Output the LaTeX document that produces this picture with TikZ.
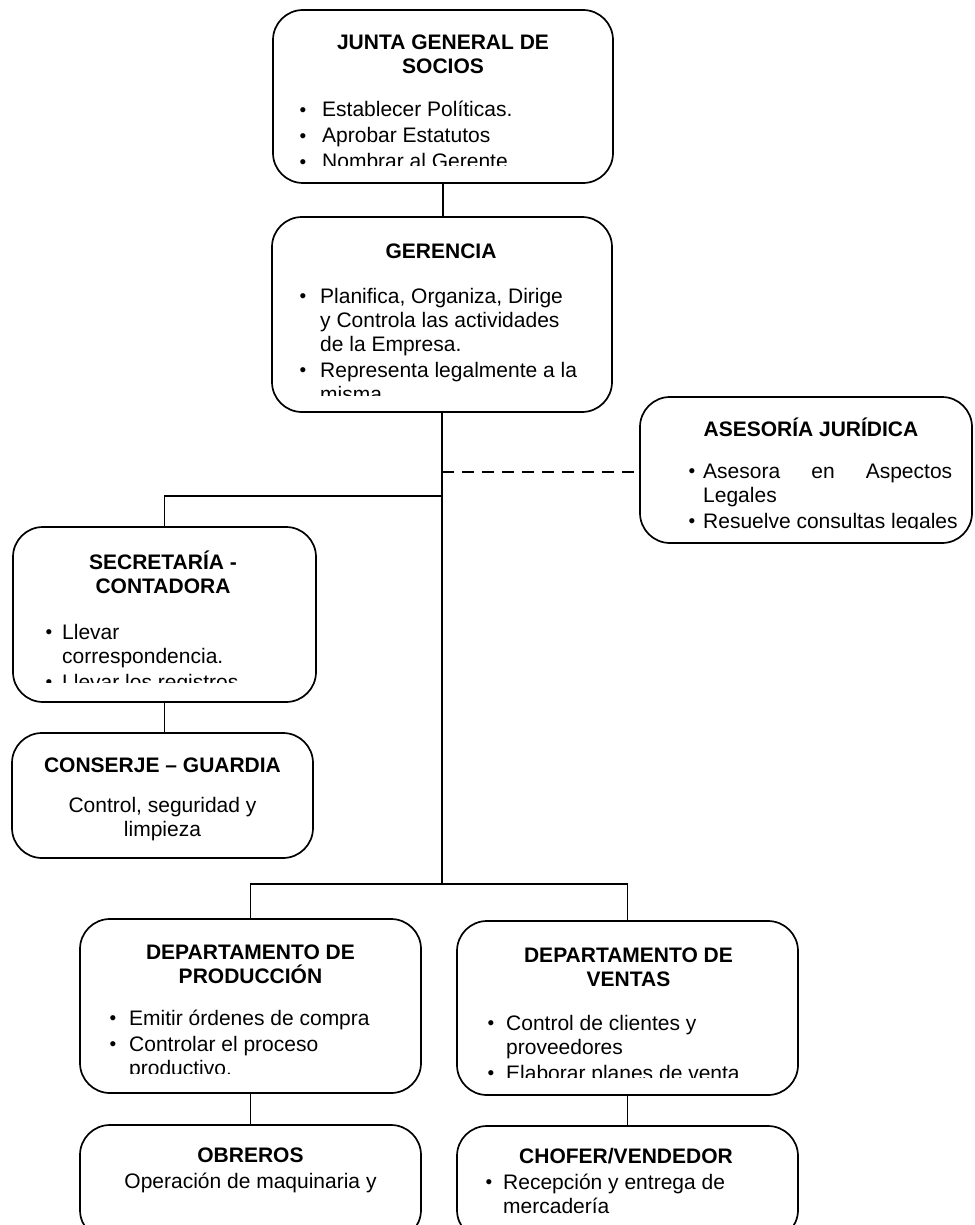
\documentclass[tikz,border=0pt]{standalone}
\usepackage{fontspec}
\setmainfont{Liberation Sans}

% bullet glyph
\newcommand\dotmark{\raisebox{0.5pt}{\fontsize{19}{19}\selectfont\textbullet}}
% bullet item with hanging indent #1
\newcommand\itm[2]{\par\hangindent=#1\hangafter=1\noindent\makebox[#1][l]{\dotmark}#2}
% top-aligned text blocks (first baseline = node base)
\newcommand\lst[1]{\parbox[t]{420pt}{\setlength{\parskip}{2pt}#1}}
\newcommand\cblk[1]{\parbox[t]{420pt}{\centering #1}}

\tikzset{
  box/.style={draw, line width=1.7pt, rounded corners=30pt, inner sep=0pt},
  conn/.style={line width=1.7pt},
  ttl/.style={anchor=base, inner sep=0pt, font=\fontsize{21}{24}\selectfont\bfseries},
  bdy/.style={anchor=base west, inner sep=0pt, font=\fontsize{21}{24}\selectfont},
  ctr/.style={anchor=base, inner sep=0pt, font=\fontsize{21}{24}\selectfont},
}

\begin{document}
\begin{tikzpicture}[x=1pt,y=-1pt]
\useasboundingbox (0,0) rectangle (974,1225);
\fill[white] (0,0) rectangle (974,1225);
\clip (0,0) rectangle (974,1225);

% ---- boxes
\node[box, minimum width=340pt, minimum height=173pt] (junta) at (443,96.5) {};
\node[box, minimum width=340pt, minimum height=195pt] (ger) at (442,314.5) {};
\node[box, minimum width=332pt, minimum height=146pt] (ases) at (806,470) {};
\node[box, minimum width=303pt, minimum height=175pt] (sec) at (164.5,614.5) {};
\node[box, minimum width=301pt, minimum height=125pt] (con) at (162.5,795.5) {};
\node[box, minimum width=341pt, minimum height=174pt] (prod) at (250.5,1006) {};
\node[box, minimum width=341pt, minimum height=174pt] (ven) at (627.5,1008) {};
\node[box, minimum width=341pt, minimum height=115pt] (obr) at (250.5,1182.5) {};
\node[box, minimum width=341pt, minimum height=114pt] (cho) at (627.5,1183) {};

% ---- connectors
\coordinate (lvlase) at (0,472);
\coordinate (lvlsec) at (0,496);
\coordinate (lvldep) at (0,884);
\draw[conn] (junta.south) -- (junta.south |- ger.north);
\draw[conn] (ger.south) -- (ger.south |- lvldep) coordinate (jdep);
\coordinate (jsec) at (ger.south |- lvlsec);
\coordinate (jase) at (ger.south |- lvlase);
\draw[conn] (jsec) -| (sec.north);
\draw[conn, line width=1.5pt, dash pattern=on 12pt off 8pt] (jase) -- (ases.west |- jase);
\draw[conn] (sec.south) -- (sec.south |- con.north);
\draw[conn] (jdep) -| (prod.north);
\draw[conn] (jdep) -| (ven.north);
\draw[conn] (prod.south) -- (prod.south |- obr.north);
\draw[conn] (ven.south) -- (ven.south |- cho.north);

% ---- Junta general de socios
\node[ttl] (juntaT) at (443,50) {\cblk{JUNTA GENERAL DE\\SOCIOS}};
\begin{scope}
  \clip (273,10) rectangle (613,166);
  \node[bdy] (juntaB) at (299.5,117) {\lst{%
    \itm{22.5pt}{Establecer Políticas.}
    \itm{22.5pt}{Aprobar Estatutos}
    \itm{22.5pt}{Nombrar al Gerente}}};
\end{scope}

% ---- Gerencia
\node[ttl] (gerT) at (441,258) {\cblk{GERENCIA}};
\begin{scope}
  \clip (272,217) rectangle (612,395);
  \node[bdy] (gerB) at (299.5,303) {\lst{%
    \itm{20.5pt}{Planifica, Organiza, Dirige\\y Controla las actividades\\de la Empresa.}
    \itm{20.5pt}{Representa legalmente a la\\misma}}};
\end{scope}

% ---- Asesoria juridica
\node[ttl] (asesT) at (811,436) {\cblk{ASESORÍA JURÍDICA}};
\begin{scope}
  \clip (640,397) rectangle (972,528);
  \node[bdy] (asesB) at (688.5,478) {\lst{%
    \itm{14.5pt}{\makebox[249pt][s]{Asesora\hfill en\hfill Aspectos}\\Legales}
    \itm{14.5pt}{Resuelve consultas legales}}};
\end{scope}

% ---- Secretaria - contadora
\node[ttl] (secT) at (163,569) {\cblk{SECRETARÍA -\\CONTADORA}};
\begin{scope}
  \clip (13,527) rectangle (316,682);
  \node[bdy] (secB) at (45.5,639) {\lst{%
    \itm{16.5pt}{Llevar\\correspondencia.}
    \itm{16.5pt}{Llevar los registros}}};
\end{scope}

% ---- Conserje - guardia
\node[ttl] (conT) at (162.5,772) {\cblk{CONSERJE – GUARDIA}};
\node[ctr] (conB) at (162.5,812) {\cblk{Control, seguridad y\\limpieza}};

% ---- Departamento de produccion
\node[ttl] (prodT) at (250.5,959) {\cblk{DEPARTAMENTO DE\\PRODUCCIÓN}};
\begin{scope}
  \clip (80,919) rectangle (421,1073);
  \node[bdy] (prodB) at (109.5,1025) {\lst{%
    \itm{19.5pt}{Emitir órdenes de compra}
    \itm{19.5pt}{Controlar el proceso\\productivo.}}};
\end{scope}

% ---- Departamento de ventas
\node[ttl] (venT) at (628.5,962) {\cblk{DEPARTAMENTO DE\\VENTAS}};
\begin{scope}
  \clip (457,921) rectangle (798,1077);
  \node[bdy] (venB) at (487.5,1030) {\lst{%
    \itm{18.5pt}{Control de clientes y\\proveedores}
    \itm{18.5pt}{Elaborar planes de venta}}};
\end{scope}

% ---- Obreros
\node[ttl] (obrT) at (250.5,1162) {\cblk{OBREROS}};
\node[ctr] (obrB) at (250.5,1188) {\cblk{Operación de maquinaria y}};

% ---- Chofer / vendedor
\node[ttl] (choT) at (626,1163) {\cblk{CHOFER/VENDEDOR}};
\node[bdy] (choB) at (485.5,1189) {\lst{%
    \itm{17.5pt}{Recepción y entrega de\\mercadería}}};
\end{tikzpicture}
\end{document}
